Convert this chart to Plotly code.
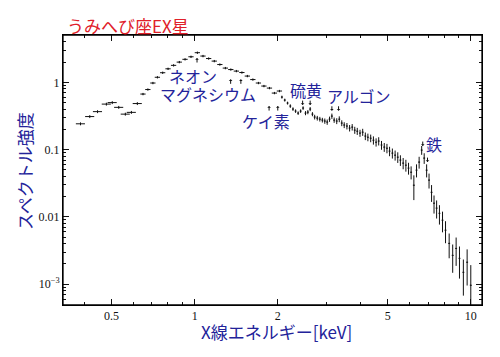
import numpy as np
import plotly.graph_objects as go

# ---- data (keV, relative intensity) ----
energy_soft = [0.386, 0.417, 0.445, 0.479, 0.503, 0.531, 0.561, 0.590, 0.620]
flux_soft = [0.242, 0.310, 0.367, 0.475, 0.500, 0.425, 0.337, 0.358, 0.484]

energy_mid = [0.650, 0.677, 0.706, 0.733, 0.766, 0.801, 0.839, 0.880, 0.923, 0.970,
              1.023, 1.072, 1.124, 1.178, 1.234, 1.292, 1.352, 1.416, 1.483, 1.552,
              1.625, 1.702, 1.782, 1.866, 1.945, 2.028]
flux_mid = [0.670, 0.782, 0.977, 1.19, 1.39, 1.59, 1.79, 2.00, 2.20, 2.40,
            2.76, 2.46, 2.26, 2.07, 1.84, 1.63, 1.55, 1.47, 1.40, 1.24,
            1.10, 0.977, 0.881, 0.822, 0.693, 0.743]

energy_hard = [2.07, 2.12, 2.17, 2.22, 2.27, 2.32, 2.37, 2.42, 2.47, 2.52,
               2.57, 2.62, 2.67, 2.72, 2.78, 2.84, 2.90, 2.96, 3.02, 3.08,
               3.14, 3.20, 3.27, 3.34, 3.41, 3.48, 3.56, 3.64, 3.72, 3.80,
               3.88, 3.97, 4.06, 4.15, 4.24, 4.34, 4.44, 4.54, 4.64, 4.75,
               4.86, 4.97, 5.08, 5.20, 5.32, 5.44, 5.56, 5.69, 5.82, 5.95,
               6.08, 6.22, 6.36, 6.50, 6.64, 6.78, 6.92, 7.06, 7.21, 7.36,
               7.52, 7.70, 7.90, 8.10, 8.35, 8.60, 8.85, 9.10, 9.40, 9.70,
               10.0]
flux_hard = [0.604, 0.545, 0.492, 0.444, 0.401, 0.374, 0.349, 0.374, 0.415, 0.349,
             0.361, 0.401, 0.337, 0.305, 0.294, 0.284, 0.275, 0.266, 0.257, 0.284,
             0.315, 0.275, 0.266, 0.284, 0.248, 0.232, 0.224, 0.209, 0.216, 0.195,
             0.188, 0.176, 0.182, 0.159, 0.153, 0.148, 0.138, 0.129, 0.134, 0.117,
             0.109, 0.105, 0.0950, 0.0887, 0.0828, 0.0773, 0.0698, 0.0630, 0.0588, 0.0531,
             0.0462, 0.0296, 0.0495, 0.0652, 0.0984, 0.0748, 0.0495, 0.0352, 0.0232, 0.0160,
             0.0135, 0.0113, 0.00893, 0.00634, 0.00404, 0.00268, 0.00340, 0.00242, 0.00150, 0.00212,
             0.000964]
err_hard_pct = [5, 5, 5, 6, 6, 6, 6, 6, 6, 7,
                7, 7, 7, 8, 8, 8, 8, 9, 9, 9,
                9, 9, 10, 10, 10, 10, 11, 11, 11, 12,
                12, 12, 12, 13, 13, 13, 14, 14, 14, 15,
                15, 16, 16, 17, 17, 18, 18, 19, 20, 20,
                22, 40, 22, 20, 15, 18, 22, 25, 28, 30,
                30, 32, 34, 36, 40, 45, 45, 50, 55, 55,
                99]

# emission lines (keV)
line_energy_up = [1.02, 1.35, 1.47, 1.86, 2.00]          # Ne, Mg, Mg, Si, Si
line_energy_down = [2.46, 2.62, 3.14, 3.32, 6.70, 6.97]  # S, S, Ar, Ar, Fe, Fe
line_names = ["ネオン", "マグネシウム", "ケイ素", "硫黄", "アルゴン", "鉄"]

x_tickvals = [0.5, 1, 2, 5, 10]
x_ticktext = ["0.5", "1", "2", "5", "10"]
y_tickvals = [1e-3, 0.01, 0.1, 1]
y_ticktext = ["10<sup>\u22123</sup>", "0.01", "0.1", "1"]

BLUE = "#23239a"
RED = "#e0202a"
INK = "#111"
JP = "Noto Sans CJK JP"
SERIF = "Liberation Serif"

# page has an 8px body margin: size figure so the plot area lands where the reference has it
OFF = 8
W, H = 492, 349
L, R, T, B = 55, 18, 27, 52
pw, ph = W - L - R, H - T - B


def px2paper(px, py):
    """window pixel -> paper coords"""
    return (px - OFF - L) / pw, (H - B - (py - OFF)) / ph


fig = go.Figure()


def add_series(xs, ys, xpct, ypct, ypct_arr=None):
    ey = dict(type="percent", value=ypct, color=INK, thickness=1, width=0)
    if ypct_arr is not None:
        ys_a = np.array(ys)
        pa = np.array(ypct_arr) / 100.0
        ey = dict(type="data", array=list(ys_a * pa), arrayminus=list(ys_a * np.minimum(pa, 0.999)),
                  color=INK, thickness=1, width=0)
    fig.add_trace(go.Scatter(
        x=xs, y=ys, mode="markers",
        marker=dict(size=1, color=INK),
        error_x=dict(type="percent", value=xpct, color=INK, thickness=1, width=0),
        error_y=ey, showlegend=False, hoverinfo="skip"))


add_series(energy_soft, flux_soft, 3.8, 5)
add_series(energy_mid, flux_mid, 2.2, 4)
add_series(energy_hard, flux_hard, 0.8, None, err_hard_pct)

ann = []
up_tips = [2.30, 1.11, 1.11, 0.444, 0.444]
down_tips = [0.459, 0.459, 0.378, 0.378, 0.113, 0.0652]
for e, t in zip(line_energy_up, up_tips):
    ann.append(dict(x=np.log10(e), y=np.log10(t), xref="x", yref="y", text="",
                    showarrow=True, ax=0, ay=6, arrowhead=1, arrowsize=0.6,
                    arrowwidth=1, arrowcolor=INK))
for e, t in zip(line_energy_down, down_tips):
    ann.append(dict(x=np.log10(e), y=np.log10(t), xref="x", yref="y", text="",
                    showarrow=True, ax=0, ay=-6, arrowhead=1, arrowsize=0.6,
                    arrowwidth=1, arrowcolor=INK))

label_pos = [(0.985, 1.24), (1.12, 0.68), (1.82, 0.265), (2.54, 0.77), (3.95, 0.625), (7.33, 0.123)]
for txt, (e, f) in zip(line_names, label_pos):
    ann.append(dict(x=np.log10(e), y=np.log10(f), xref="x", yref="y", text=txt,
                    showarrow=False, font=dict(family=JP, size=16, color=BLUE),
                    xanchor="center", yanchor="middle"))

tx, ty = px2paper(65, 26)
ann.append(dict(x=tx, y=ty, xref="paper", yref="paper", text="うみへび座EX星", showarrow=False,
                font=dict(family=JP, size=17, color=RED), xanchor="left", yanchor="middle"))
xtx, xty = px2paper(276, 331)
ann.append(dict(x=xtx, y=xty, xref="paper", yref="paper", text="X線エネルギー[keV]",
                showarrow=False, font=dict(family=JP, size=17, color=BLUE),
                xanchor="center", yanchor="middle"))
ytx, yty = px2paper(24, 171)
ann.append(dict(x=ytx, y=yty, xref="paper", yref="paper", text="スペクトル強度",
                showarrow=False, textangle=-90, font=dict(family=JP, size=17, color=BLUE),
                xanchor="center", yanchor="middle"))

axis_common = dict(type="log", showgrid=False, zeroline=False,
                   showline=True, linecolor="#000000", linewidth=1, mirror="ticks",
                   ticks="inside", ticklen=6, tickcolor=INK, tickwidth=1,
                   tickfont=dict(family=SERIF, size=12, color=INK))

fig.update_layout(
    width=W, height=H, margin=dict(l=L, r=R, t=T, b=B, autoexpand=False),
    paper_bgcolor="white", plot_bgcolor="white",
    annotations=ann,
    shapes=[dict(type="rect", xref="paper", yref="paper", x0=0, y0=0, x1=1, y1=1,
                 line=dict(color="#000000", width=1.3), layer="above")],
    xaxis=dict(axis_common, range=[-0.4768, 1.0406],
               tickvals=x_tickvals, ticktext=x_ticktext,
               minor=dict(tickvals=[0.4, 0.6, 0.7, 0.8, 0.9, 3, 4, 6, 7, 8, 9],
                          ticks="inside", ticklen=3, tickcolor=INK)),
    yaxis=dict(axis_common, range=[-3.31, 0.704],
               tickvals=y_tickvals, ticktext=y_ticktext,
               minor=dict(tickvals=[6e-4, 7e-4, 8e-4, 9e-4,
                                    2e-3, 3e-3, 4e-3, 5e-3, 6e-3, 7e-3, 8e-3, 9e-3,
                                    0.02, 0.03, 0.04, 0.05, 0.06, 0.07, 0.08, 0.09,
                                    0.2, 0.3, 0.4, 0.5, 0.6, 0.7, 0.8, 0.9,
                                    2, 3, 4, 5],
                          ticks="inside", ticklen=3, tickcolor=INK)),
)

fig.write_html("out.html")
